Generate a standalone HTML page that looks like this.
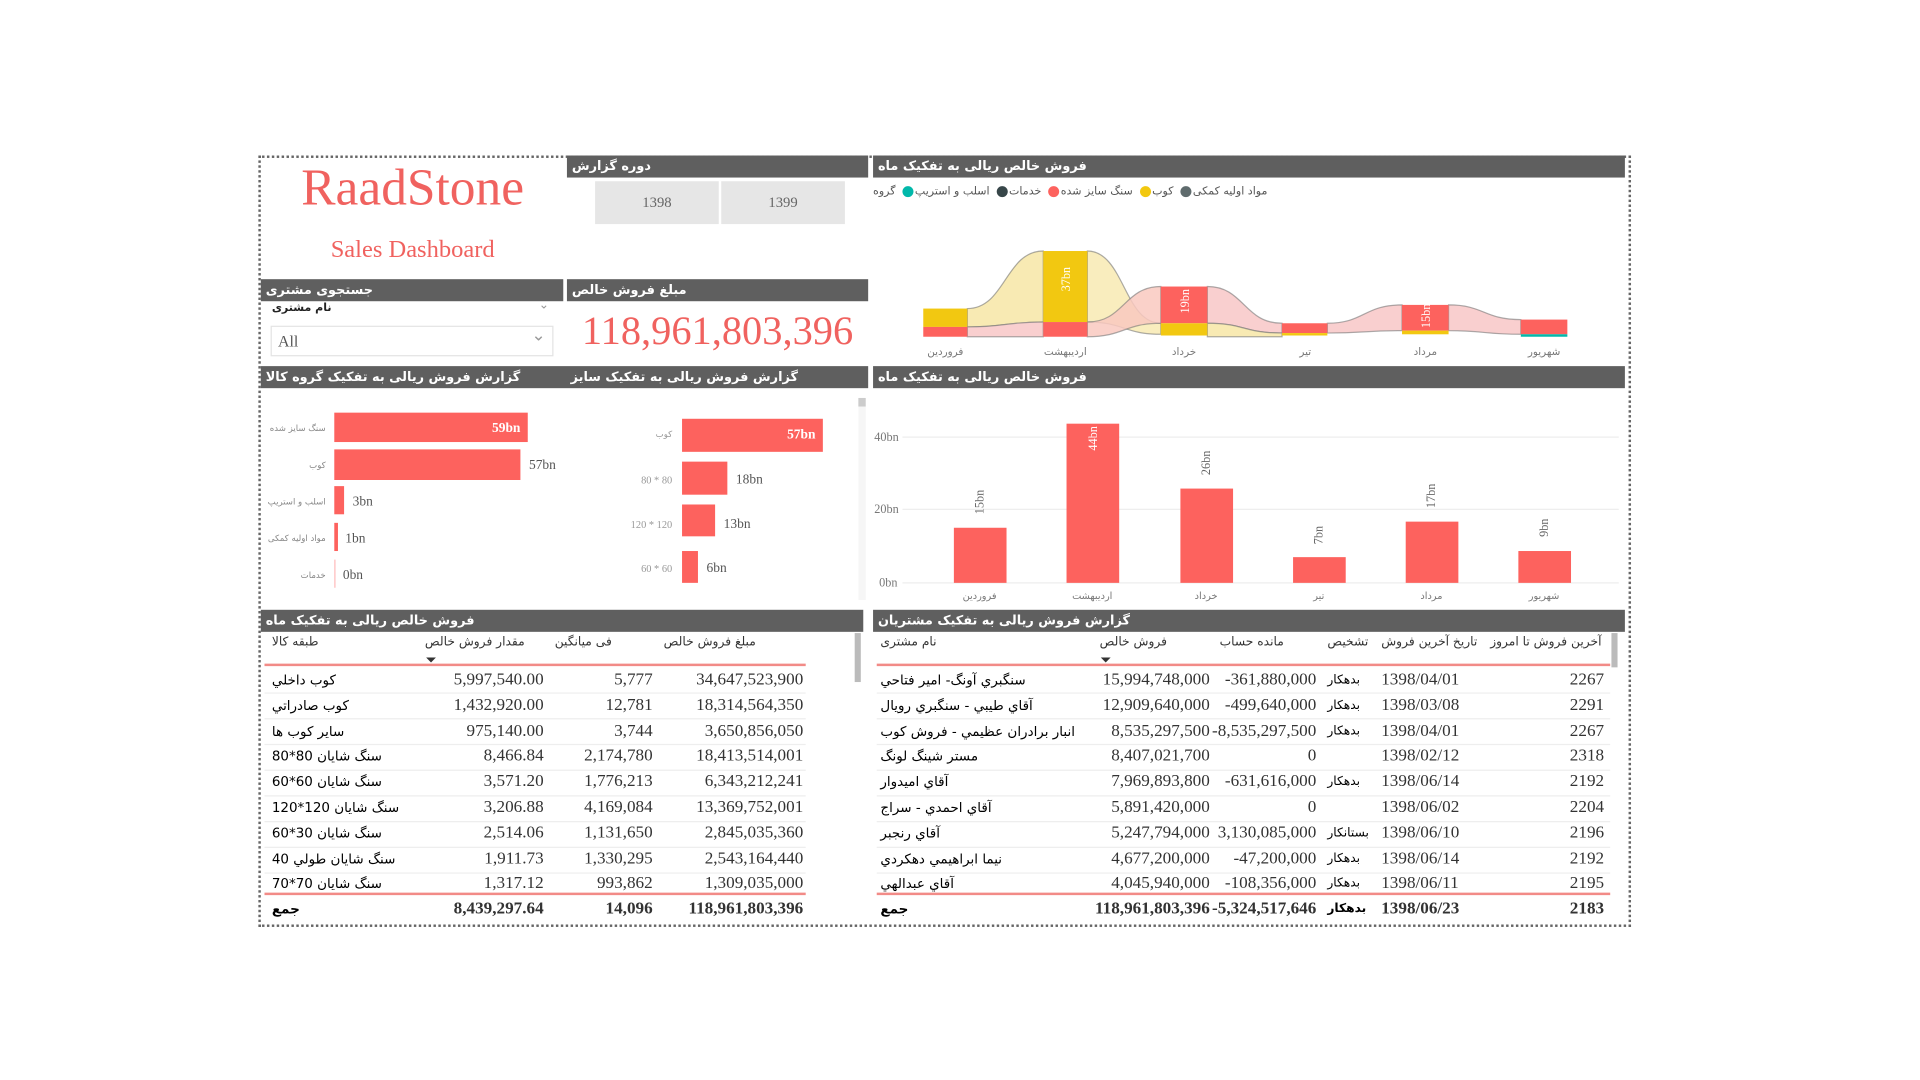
<!DOCTYPE html>
<html><head><meta charset="utf-8">
<style>
html,body{margin:0;padding:0;background:#fff;overflow:hidden;width:1920px;height:1080px}
#s{position:absolute;left:0;top:0;width:1568px;height:882px;transform:scale(1.22449);transform-origin:0 0;font-family:"Liberation Serif","DejaVu Sans",serif}
.a{position:absolute}
.bar{position:absolute;background:#5f5f5f;color:#fff;font:bold 10.5px "DejaVu Sans",sans-serif;line-height:18px;height:18px;white-space:nowrap}
.bar span{position:absolute;left:4px;top:0;direction:rtl}
.fa{font-family:"DejaVu Sans",sans-serif;direction:rtl;unicode-bidi:embed;white-space:nowrap}
.n{font-family:"Liberation Serif",serif;font-size:14px;color:#333;white-space:nowrap}
.r{text-align:right}
.lg{display:inline-block;unicode-bidi:isolate;direction:rtl;margin-right:3px}
.dot{display:inline-block;width:9px;height:9px;border-radius:50%;vertical-align:middle;margin-right:1px}
</style></head><body><div id="s">
<div class="a" style="left:211px;top:127px;width:1117px;height:626px;border:2px dotted #666"></div>

<div class="a" style="left:211px;top:130px;width:252px;text-align:center;font:42px 'Liberation Serif',serif;color:#f0625f">RaadStone</div>
<div class="a" style="left:211px;top:193px;width:252px;text-align:center;font:20px 'Liberation Serif',serif;color:#f0625f">Sales Dashboard</div>

<div class="bar" style="left:463px;top:127px;width:246px"><span>دوره گزارش</span></div>
<div class="bar" style="left:713px;top:127px;width:614px"><span>فروش خالص ریالی به تفکیک ماه</span></div>
<div class="a" style="left:486px;top:148px;width:101px;height:35px;background:#e6e6e6;font:12px 'Liberation Serif',serif;color:#666;text-align:center;line-height:35px">1398</div>
<div class="a" style="left:589px;top:148px;width:101px;height:35px;background:#e6e6e6;font:12px 'Liberation Serif',serif;color:#666;text-align:center;line-height:35px">1399</div>

<div class="bar" style="left:213px;top:228px;width:247px"><span>جستجوی مشتری</span></div>
<div class="bar" style="left:463px;top:228px;width:246px"><span>مبلغ فروش خالص</span></div>
<div class="a fa" style="left:222px;top:247px;font-size:9px;font-weight:bold;color:#222">نام مشتری</div>
<div class="a" style="left:440px;top:244px;font:10px 'DejaVu Sans';color:#999">⌄</div>
<div class="a" style="left:221px;top:266px;width:229px;height:23px;border:1px solid #e4e4e4;font:13px 'Liberation Serif',serif;color:#555;line-height:23px;text-indent:5px">All</div>
<div class="a" style="left:434px;top:266px;font:14px 'DejaVu Sans';color:#999">⌄</div>
<div class="a" style="left:463px;top:253px;width:246px;text-align:center;font:33px 'Liberation Serif',serif;color:#f0625f">118,961,803,396</div>

<div class="a" style="left:713px;top:152px;font:9px 'DejaVu Sans',sans-serif;color:#555;white-space:nowrap;direction:ltr">
<span class="lg">گروه</span>
<span class="dot" style="background:#01b8aa"></span><span class="lg">اسلب و استریپ</span>
<span class="dot" style="background:#374649"></span><span class="lg">خدمات</span>
<span class="dot" style="background:#fd625e"></span><span class="lg">سنگ سایز شده</span>
<span class="dot" style="background:#f2c80f"></span><span class="lg">کوب</span>
<span class="dot" style="background:#5f6b6d"></span><span class="lg">مواد اولیه کمکی</span>
</div>

<svg class="a" style="left:0;top:0" width="1568" height="882">
<g stroke="#777" stroke-width="1" stroke-opacity="0.6">
<path d="M790 252 C821 252 821 205 852 205 L852 263 C821 263 821 267 790 267 Z" fill="#f8eab3"/>
<path d="M888 205 C918 205 918 264 948 264 L948 273 C918 273 918 263 888 263 Z" fill="#f8eab3" fill-opacity="0.85"/>
<path d="M790 267 C821 267 821 263 852 263 L852 275 C821 275 821 275 790 275 Z" fill="#f9cfcf"/>
<path d="M888 263 C918 263 918 234 948 234 L948 264 C918 264 918 275 888 275 Z" fill="#f9c9c0" fill-opacity="0.85"/>
<path d="M986 234 C1016 234 1016 264 1047 264 L1047 272 C1016 272 1016 264 986 264 Z" fill="#f9cfcf"/>
<path d="M1084 264 C1114 264 1114 249 1145 249 L1145 270 C1114 270 1114 272 1084 272 Z" fill="#f9cfcf"/>
<path d="M1183 249 C1212 249 1212 261 1242 261 L1242 273 C1212 273 1212 270 1183 270 Z" fill="#f9cfcf"/>
<path d="M986 264 C1016 264 1016 272 1047 272 L1047 275 C1016 275 1016 275 986 275 Z" fill="#f8eab3"/>
</g>
<rect x="754" y="252" width="36" height="15" fill="#f2c811"/><rect x="754" y="267" width="36" height="8" fill="#fd625e"/>
<rect x="852" y="205" width="36" height="58" fill="#f2c811"/><rect x="852" y="263" width="36" height="12" fill="#fd625e"/>
<rect x="948" y="234" width="38" height="30" fill="#fd625e"/><rect x="948" y="264" width="38" height="10" fill="#f2c811"/>
<rect x="1047" y="264" width="37" height="8" fill="#fd625e"/><rect x="1047" y="272" width="37" height="2" fill="#f2c811"/>
<rect x="1145" y="249" width="38" height="21" fill="#fd625e"/><rect x="1145" y="270" width="38" height="3" fill="#f2c811"/>
<rect x="1242" y="261" width="38" height="12" fill="#fd625e"/><rect x="1242" y="273" width="38" height="2" fill="#01b8aa"/>
<g font-family="Liberation Serif" font-size="10" fill="#fff">
<text transform="translate(874,228) rotate(-90)" text-anchor="middle">37bn</text>
<text transform="translate(971,246) rotate(-90)" text-anchor="middle">19bn</text>
<text transform="translate(1168,258) rotate(-90)" text-anchor="middle">15bn</text>
</g>
<g font-family="DejaVu Sans" font-size="8.5" fill="#777" text-anchor="middle">
<text x="772" y="290">فروردین</text><text x="870" y="290">اردیبهشت</text><text x="967" y="290">خرداد</text>
<text x="1066" y="290">تیر</text><text x="1164" y="290">مرداد</text><text x="1261" y="290">شهریور</text>
</g>

<g stroke="#eee"><line x1="737" y1="357" x2="1322" y2="357"/><line x1="737" y1="416" x2="1322" y2="416"/><line x1="737" y1="476" x2="1322" y2="476"/></g>
<g font-family="Liberation Serif" font-size="10" fill="#777">
<text x="714" y="360">40bn</text><text x="714" y="419">20bn</text><text x="718" y="479">0bn</text></g>
<g fill="#fd625e">
<rect x="779" y="431" width="43" height="45"/><rect x="871" y="346" width="43" height="130"/>
<rect x="964" y="399" width="43" height="77"/><rect x="1056" y="455" width="43" height="21"/>
<rect x="1148" y="426" width="43" height="50"/><rect x="1240" y="450" width="43" height="26"/></g>
<g font-family="Liberation Serif" font-size="10" fill="#666" text-anchor="middle">
<text transform="translate(803,410) rotate(-90)">15bn</text>
<text transform="translate(896,358) rotate(-90)" fill="#fff">44bn</text>
<text transform="translate(988,378) rotate(-90)">26bn</text>
<text transform="translate(1080,437) rotate(-90)">7bn</text>
<text transform="translate(1172,405) rotate(-90)">17bn</text>
<text transform="translate(1264,431) rotate(-90)">9bn</text>
</g>
<g font-family="DejaVu Sans" font-size="8" fill="#777" text-anchor="middle">
<text x="800" y="489">فروردین</text><text x="892" y="489">اردیبهشت</text><text x="985" y="489">خرداد</text>
<text x="1077" y="489">تیر</text><text x="1169" y="489">مرداد</text><text x="1261" y="489">شهریور</text>
</g>

<g fill="#fd625e">
<rect x="273" y="337" width="158" height="24"/><rect x="273" y="367" width="152" height="25"/>
<rect x="273" y="397" width="8" height="23"/><rect x="273" y="427" width="3" height="23"/><rect x="273" y="457" width="1" height="23" fill="#fbb"/></g>
<g font-family="Liberation Serif" font-size="11" fill="#555">
<text x="425" y="353" fill="#fff" text-anchor="end" font-weight="bold">59bn</text>
<text x="432" y="383">57bn</text><text x="288" y="413">3bn</text><text x="282" y="443">1bn</text><text x="280" y="473">0bn</text></g>
<g font-family="DejaVu Sans" font-size="7" fill="#888" text-anchor="end">
<text x="266" y="352">سنگ سایز شده</text><text x="266" y="382">کوب</text><text x="266" y="412">اسلب و استریپ</text>
<text x="266" y="442">مواد اولیه کمکی</text><text x="266" y="472">خدمات</text></g>

<g fill="#fd625e">
<rect x="557" y="342" width="115" height="27"/><rect x="557" y="377" width="37" height="27"/>
<rect x="557" y="412" width="27" height="26"/><rect x="557" y="450" width="13" height="26"/></g>
<g font-family="Liberation Serif" font-size="11" fill="#555">
<text x="666" y="358" fill="#fff" text-anchor="end" font-weight="bold">57bn</text>
<text x="601" y="395">18bn</text><text x="591" y="431">13bn</text><text x="577" y="467">6bn</text></g>
<g font-family="Liberation Serif" font-size="8.5" fill="#999" text-anchor="end">
<text x="549" y="357" font-family="DejaVu Sans" font-size="7">کوب</text><text x="549" y="395">80 * 80</text>
<text x="549" y="431">120 * 120</text><text x="549" y="467">60 * 60</text></g>
<rect x="701" y="325" width="6" height="165" fill="#f6f6f6"/><rect x="701" y="325" width="6" height="7" fill="#ccc"/>

<g stroke="#f28b87" stroke-width="2"><line x1="216" y1="543" x2="658" y2="543"/><line x1="216" y1="730" x2="658" y2="730"/>
<line x1="716" y1="543" x2="1315" y2="543"/><line x1="716" y1="730" x2="1315" y2="730"/></g>
<g stroke="#eee"><line x1="216" y1="566" x2="658" y2="566"/><line x1="216" y1="587" x2="658" y2="587"/><line x1="216" y1="608" x2="658" y2="608"/><line x1="216" y1="629" x2="658" y2="629"/><line x1="216" y1="650" x2="658" y2="650"/><line x1="216" y1="671" x2="658" y2="671"/><line x1="216" y1="692" x2="658" y2="692"/><line x1="216" y1="713" x2="658" y2="713"/>
<line x1="716" y1="566" x2="1315" y2="566"/><line x1="716" y1="587" x2="1315" y2="587"/><line x1="716" y1="608" x2="1315" y2="608"/><line x1="716" y1="629" x2="1315" y2="629"/><line x1="716" y1="650" x2="1315" y2="650"/><line x1="716" y1="671" x2="1315" y2="671"/><line x1="716" y1="692" x2="1315" y2="692"/><line x1="716" y1="713" x2="1315" y2="713"/></g>
<rect x="698" y="517" width="5" height="40" fill="#bbb"/><rect x="1316" y="517" width="5" height="28" fill="#bbb"/>
<g fill="#333"><path d="M348 537 l8 0 l-4 4z"/><path d="M899 537 l8 0 l-4 4z"/></g>
</svg>

<div class="bar" style="left:213px;top:299px;width:496px"><span>گزارش فروش ریالی به تفکیک گروه کالا</span><span style="left:253px">گزارش فروش ریالی به تفکیک سایز</span></div>
<div class="bar" style="left:713px;top:299px;width:614px"><span>فروش خالص ریالی به تفکیک ماه</span></div>
<div class="bar" style="left:213px;top:498px;width:492px"><span>فروش خالص ریالی به تفکیک ماه</span></div>
<div class="bar" style="left:713px;top:498px;width:614px"><span>گزارش فروش ریالی به تفکیک مشتریان</span></div>

<div class="a fa" style="left:222px;top:519px;font-size:10px;color:#333">طبقه کالا</div>
<div class="a fa" style="left:347px;top:519px;font-size:10px;color:#333">مقدار فروش خالص</div>
<div class="a fa" style="left:453px;top:519px;font-size:10px;color:#333">فی میانگین</div>
<div class="a fa" style="left:542px;top:519px;font-size:10px;color:#333">مبلغ فروش خالص</div>

<div class="a" style="left:222px;top:546px;width:434px;font-size:13px;line-height:20.8px">
<table style="border-collapse:collapse;width:434px" cellpadding="0">
<colgroup><col style="width:110px"><col style="width:112px"><col style="width:89px"><col style="width:123px"></colgroup>
<tr><td class="fa" style="text-align:left;font-size:11px">کوب داخلي</td><td class="n r">5,997,540.00</td><td class="n r">5,777</td><td class="n r">34,647,523,900</td></tr>
<tr><td class="fa" style="text-align:left;font-size:11px">کوب صادراتي</td><td class="n r">1,432,920.00</td><td class="n r">12,781</td><td class="n r">18,314,564,350</td></tr>
<tr><td class="fa" style="text-align:left;font-size:11px">ساير کوب ها</td><td class="n r">975,140.00</td><td class="n r">3,744</td><td class="n r">3,650,856,050</td></tr>
<tr><td class="fa" style="text-align:left;font-size:11px">سنگ شايان 80*80</td><td class="n r">8,466.84</td><td class="n r">2,174,780</td><td class="n r">18,413,514,001</td></tr>
<tr><td class="fa" style="text-align:left;font-size:11px">سنگ شايان 60*60</td><td class="n r">3,571.20</td><td class="n r">1,776,213</td><td class="n r">6,343,212,241</td></tr>
<tr><td class="fa" style="text-align:left;font-size:11px">سنگ شايان 120*120</td><td class="n r">3,206.88</td><td class="n r">4,169,084</td><td class="n r">13,369,752,001</td></tr>
<tr><td class="fa" style="text-align:left;font-size:11px">سنگ شايان 30*60</td><td class="n r">2,514.06</td><td class="n r">1,131,650</td><td class="n r">2,845,035,360</td></tr>
<tr><td class="fa" style="text-align:left;font-size:11px">سنگ شايان طولي 40</td><td class="n r">1,911.73</td><td class="n r">1,330,295</td><td class="n r">2,543,164,440</td></tr>
<tr><td class="fa" style="text-align:left;font-size:11px">سنگ شايان 70*70</td><td class="n r">1,317.12</td><td class="n r">993,862</td><td class="n r">1,309,035,000</td></tr>
<tr><td class="fa" style="text-align:left;font-size:11px;font-weight:bold">جمع</td><td class="n r" style="font-weight:bold">8,439,297.64</td><td class="n r" style="font-weight:bold">14,096</td><td class="n r" style="font-weight:bold">118,961,803,396</td></tr>
</table></div>

<div class="a fa" style="left:719px;top:519px;font-size:10px;color:#333">نام مشتری</div>
<div class="a fa" style="left:898px;top:519px;font-size:10px;color:#333">فروش خالص</div>
<div class="a fa" style="left:996px;top:519px;font-size:10px;color:#333">مانده حساب</div>
<div class="a fa" style="left:1084px;top:519px;font-size:10px;color:#333">تشخیص</div>
<div class="a fa" style="left:1128px;top:519px;font-size:10px;color:#333">تاریخ آخرین فروش</div>
<div class="a fa" style="left:1217px;top:519px;font-size:10px;color:#333">آخرین فروش تا امروز</div>

<div class="a" style="left:719px;top:546px;width:591px;font-size:13px;line-height:20.8px">
<table style="border-collapse:collapse;width:591px" cellpadding="0">
<colgroup><col style="width:175px"><col style="width:94px"><col style="width:87px"><col style="width:53px"><col style="width:80px"><col style="width:102px"></colgroup>
<tr><td class="fa" style="text-align:left;font-size:11px">سنگبري آونگ- امير فتاحي</td><td class="n r">15,994,748,000</td><td class="n r">-361,880,000</td><td class="fa" style="font-size:10px;text-align:left;padding-left:9px">بدهکار</td><td class="n" style="padding-left:0">1398/04/01</td><td class="n r">2267</td></tr>
<tr><td class="fa" style="text-align:left;font-size:11px">آقاي طيبي - سنگبري رويال</td><td class="n r">12,909,640,000</td><td class="n r">-499,640,000</td><td class="fa" style="font-size:10px;text-align:left;padding-left:9px">بدهکار</td><td class="n">1398/03/08</td><td class="n r">2291</td></tr>
<tr><td class="fa" style="text-align:left;font-size:11px">انبار برادران عظيمي - فروش کوب</td><td class="n r">8,535,297,500</td><td class="n r">-8,535,297,500</td><td class="fa" style="font-size:10px;text-align:left;padding-left:9px">بدهکار</td><td class="n">1398/04/01</td><td class="n r">2267</td></tr>
<tr><td class="fa" style="text-align:left;font-size:11px">مستر شينگ لونگ</td><td class="n r">8,407,021,700</td><td class="n r">0</td><td></td><td class="n">1398/02/12</td><td class="n r">2318</td></tr>
<tr><td class="fa" style="text-align:left;font-size:11px">آقاي اميدوار</td><td class="n r">7,969,893,800</td><td class="n r">-631,616,000</td><td class="fa" style="font-size:10px;text-align:left;padding-left:9px">بدهکار</td><td class="n">1398/06/14</td><td class="n r">2192</td></tr>
<tr><td class="fa" style="text-align:left;font-size:11px">آقاي احمدي - سراج</td><td class="n r">5,891,420,000</td><td class="n r">0</td><td></td><td class="n">1398/06/02</td><td class="n r">2204</td></tr>
<tr><td class="fa" style="text-align:left;font-size:11px">آقاي رنجبر</td><td class="n r">5,247,794,000</td><td class="n r">3,130,085,000</td><td class="fa" style="font-size:10px;text-align:left;padding-left:9px">بستانکار</td><td class="n">1398/06/10</td><td class="n r">2196</td></tr>
<tr><td class="fa" style="text-align:left;font-size:11px">نيما ابراهيمي دهکردي</td><td class="n r">4,677,200,000</td><td class="n r">-47,200,000</td><td class="fa" style="font-size:10px;text-align:left;padding-left:9px">بدهکار</td><td class="n">1398/06/14</td><td class="n r">2192</td></tr>
<tr><td class="fa" style="text-align:left;font-size:11px">آقاي عبدالهي</td><td class="n r">4,045,940,000</td><td class="n r">-108,356,000</td><td class="fa" style="font-size:10px;text-align:left;padding-left:9px">بدهکار</td><td class="n">1398/06/11</td><td class="n r">2195</td></tr>
<tr style="font-weight:bold"><td class="fa" style="text-align:left;font-size:11px">جمع</td><td class="n r">118,961,803,396</td><td class="n r">-5,324,517,646</td><td class="fa" style="font-size:10px;text-align:left;padding-left:9px">بدهکار</td><td class="n">1398/06/23</td><td class="n r">2183</td></tr>
</table></div>
</div></body></html>
